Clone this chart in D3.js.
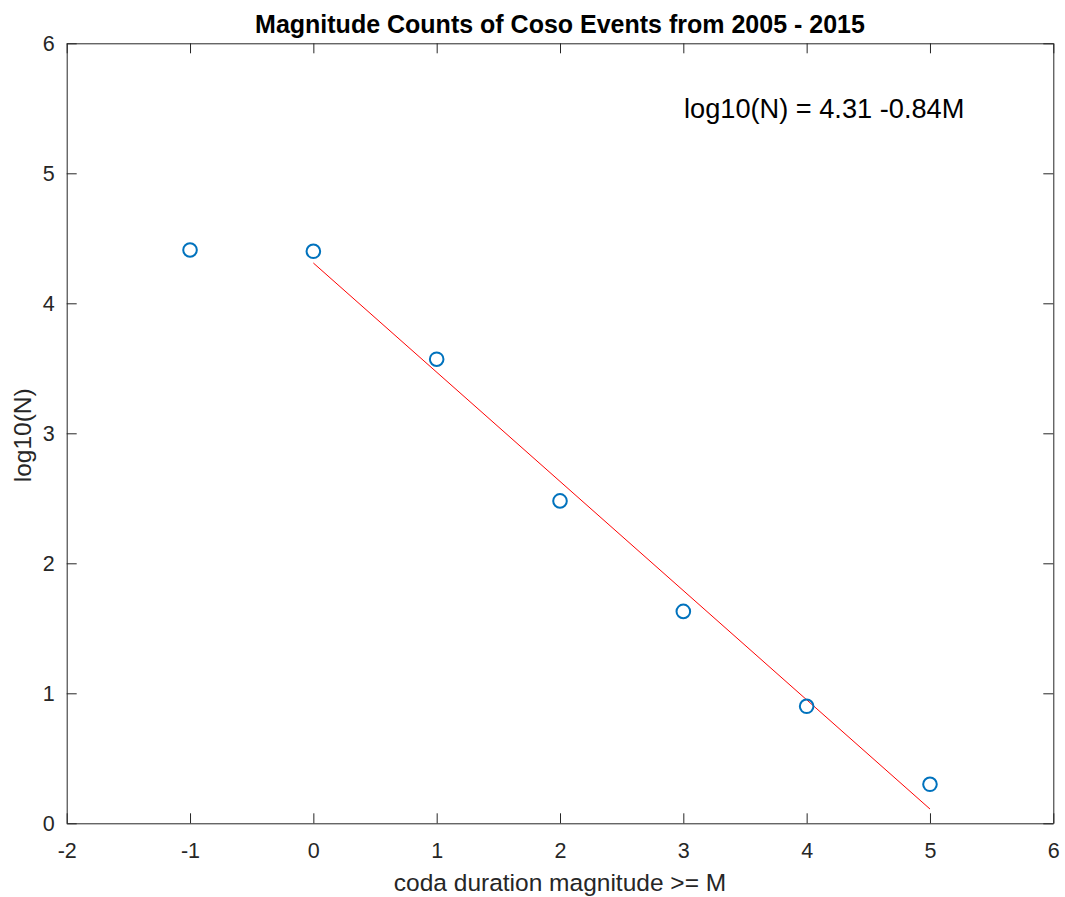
<!DOCTYPE html>
<html>
<head>
<meta charset="utf-8">
<script src="https://cdn.jsdelivr.net/npm/d3@7"></script>
<style>
  html, body { margin: 0; padding: 0; background: #fff; }
  svg { display: block; font-family: "Liberation Sans", Arial, Helvetica, sans-serif; }
</style>
</head>
<body>
<svg id="chart" width="1065" height="897"></svg>
<script>
// Cumulative counts: magnitude threshold vs log10(N)
const magnitudes = [-1, 0, 1, 2, 3, 4, 5];
const logCounts = [4.41, 4.40, 3.57, 2.48, 1.63, 0.90, 0.30];

// Gutenberg-Richter fit: log10(N) = a - b*M
const fitA = 4.31;
const fitB = 0.84;
const fitRange = [0, 5];

const xTicks = [-2, -1, 0, 1, 2, 3, 4, 5, 6];
const yTicks = [0, 1, 2, 3, 4, 5, 6];

const titleText = "Magnitude Counts of Coso Events from 2005 - 2015";
const xLabelText = "coda duration magnitude >= M";
const yLabelText = "log10(N)";
const equationText = "log10(N) = 4.31 -0.84M";

const margin = { left: 66.7, top: 43.3, right: 1065 - 1053.3, bottom: 897 - 823.3 };
const W = 1065, H = 897;
const innerW = W - margin.left - margin.right;
const innerH = H - margin.top - margin.bottom;

const svg = d3.select("#chart");
const g = svg.append("g").attr("transform", `translate(${margin.left},${margin.top})`);

const x = d3.scaleLinear().domain([-2, 6]).range([0, innerW]);
const y = d3.scaleLinear().domain([0, 6]).range([innerH, 0]);

const axisColor = "#262626";
const tickLen = 10;
const fmt = d => String(d);   // plain hyphen-minus for negatives

function styleAxis(sel, showLabels) {
  sel.attr("font-size", null).attr("font-family", null);
  sel.select(".domain").attr("stroke", axisColor).attr("stroke-width", 1);
  sel.selectAll(".tick line").attr("stroke", axisColor).attr("stroke-width", 1);
  sel.selectAll(".tick text")
    .attr("fill", axisColor)
    .style("font-size", "21.5px")
    .style("font-family", '"Liberation Sans", Arial, Helvetica, sans-serif')
    .style("display", showLabels ? null : "none");
}

// Bottom axis
const gx = g.append("g").attr("transform", `translate(0,${innerH})`)
  .call(d3.axisBottom(x).tickValues(xTicks).tickSizeInner(-tickLen).tickSizeOuter(0).tickPadding(19).tickFormat(fmt));
styleAxis(gx, true);

// Top axis (box)
const gxt = g.append("g")
  .call(d3.axisTop(x).tickValues(xTicks).tickSizeInner(-tickLen).tickSizeOuter(0).tickFormat(""));
styleAxis(gxt, false);

// Left axis
const gy = g.append("g")
  .call(d3.axisLeft(y).tickValues(yTicks).tickSizeInner(-tickLen).tickSizeOuter(0).tickPadding(12).tickFormat(fmt));
styleAxis(gy, true);

// Right axis (box)
const gyr = g.append("g").attr("transform", `translate(${innerW},0)`)
  .call(d3.axisRight(y).tickValues(yTicks).tickSizeInner(-tickLen).tickSizeOuter(0).tickFormat(""));
styleAxis(gyr, false);

// Fit line
const fitLine = d3.line().x(d => x(d)).y(d => y(fitA - fitB * d));
g.append("path")
  .datum(fitRange)
  .attr("d", fitLine)
  .attr("fill", "none")
  .attr("stroke", "#ff0000")
  .attr("stroke-width", 1);

// Data markers
g.selectAll("circle.pt")
  .data(magnitudes.map((m, i) => ({ m, v: logCounts[i] })))
  .join("circle")
  .attr("class", "pt")
  .attr("cx", d => x(d.m))
  .attr("cy", d => y(d.v))
  .attr("r", 6.8)
  .attr("fill", "none")
  .attr("stroke", "#0072BD")
  .attr("stroke-width", 2);

// Equation annotation
svg.append("text")
  .attr("x", 684)
  .attr("y", 117.5)
  .attr("fill", "#000")
  .style("font-size", "27.2px")
  .text(equationText);

// Title
svg.append("text")
  .attr("x", margin.left + innerW / 2)
  .attr("y", 33)
  .attr("text-anchor", "middle")
  .attr("fill", "#000")
  .style("font-size", "25px")
  .style("font-weight", "bold")
  .text(titleText);

// X label
svg.append("text")
  .attr("x", margin.left + innerW / 2)
  .attr("y", 891)
  .attr("text-anchor", "middle")
  .attr("fill", axisColor)
  .style("font-size", "24.5px")
  .text(xLabelText);

// Y label
svg.append("text")
  .attr("transform", `translate(31,${margin.top + innerH / 2 + 2}) rotate(-90)`)
  .attr("text-anchor", "middle")
  .attr("fill", axisColor)
  .style("font-size", "24.5px")
  .text(yLabelText);
</script>
</body>
</html>
